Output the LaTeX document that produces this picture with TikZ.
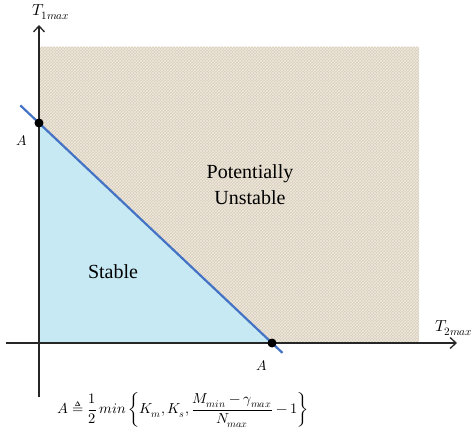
\documentclass[tikz,border=0pt]{standalone}
\usepackage{amsmath}
\usepackage{fontspec}
\usepackage{unicode-math}
\setmathfont{Latin Modern Math}
\newfontfamily\regionfont{Liberation Serif}
\usepackage{tikz}
\usetikzlibrary{calc, patterns, arrows.meta}
\definecolor{sand}{RGB}{218,206,186}
\definecolor{ice}{RGB}{198,233,243}
\definecolor{edgeblue}{RGB}{68,114,196}

\begin{document}
\begin{tikzpicture}[x=1pt, y=1pt, >={Straight Barb[length=6pt, width=11pt]},
    axis/.style={->, line width=1.3pt, black!85},
    dot/.style={circle, fill=black, inner sep=0pt, minimum size=9pt},
    lbl/.style={font=\fontsize{14}{17}\selectfont},
    region/.style={font=\regionfont\fontsize{20}{26}\selectfont, align=center}]
    \useasboundingbox (-39,-99) rectangle (435,343);

    \coordinate (O) at (0,0);
    \coordinate (Ay) at (0,220);
    \coordinate (Ax) at (233,0);
    \coordinate (xl) at (-33,0);
    \coordinate (xr) at (418,0);
    \coordinate (yb) at (0,-54);
    \coordinate (yt) at (0,318);

    % regions
    \fill[sand] (O) rectangle (380,296);
    \fill[pattern=crosshatch, pattern color=white!55!sand] (O) rectangle (380,296);
    \fill[ice] (O) -- (Ay) -- (Ax) -- cycle;

    \draw[axis] (xl) -- (xr);
    \draw[axis] (yb) -- (yt);
    \node[lbl, font=\fontsize{16}{19}\selectfont, anchor=south east, inner xsep=1pt] (T2) at (435,4) {$T_{2max}$};
    \node[lbl, font=\fontsize{16}{19}\selectfont] (T1) at (12,331) {$T_{1max}$};

    % boundary
    \draw[edgeblue, line width=2.2pt] ($(Ay)!-0.08!(Ax)$) -- ($(Ax)!-0.045!(Ay)$);
    \node[dot] (A1) at (Ay) {};
    \node[dot] (A2) at (Ax) {};
    \node[lbl] (A1lbl) at (-17,203) {$A$};
    \node[lbl] (A2lbl) at (223,-22) {$A$};

    \node[region] (unst) at (211,158) {Potentially\\Unstable};
    \node[region] (stab) at (74,71) {Stable};

    \node[lbl, font=\fontsize{14.5}{17}\selectfont] (def) at (144,-67)
        {$A \triangleq \dfrac{1}{2}\, min\left\{K_m, K_s, \dfrac{M_{min}-\gamma_{max}}{N_{max}}-1\right\}$};
\end{tikzpicture}
\end{document}
